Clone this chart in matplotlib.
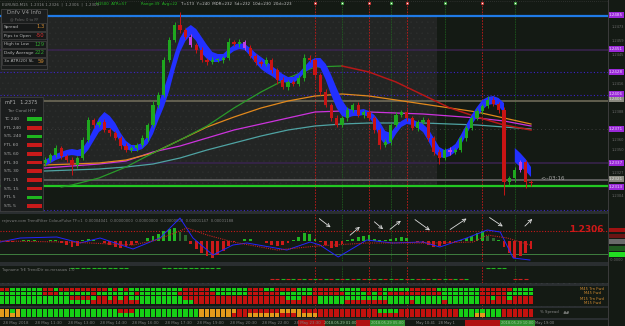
import numpy as np
import matplotlib
matplotlib.use("Agg")
import matplotlib.pyplot as plt
from matplotlib.patches import Rectangle

W, H = 625, 326
BG = "#141a14"
PIP = 0.0001

# ---------------- chart values ----------------
first_open = 1.2337
closes = [1.2340, 1.2345, 1.2352, 1.2344, 1.2340, 1.2335, 1.2342, 1.2360, 1.2380, 1.2375,
          1.2378, 1.2370, 1.2367, 1.2362, 1.2354, 1.2350, 1.2352, 1.2355, 1.2362, 1.2375,
          1.2395, 1.2405, 1.2440, 1.2460, 1.2475, 1.2470, 1.2463, 1.2455, 1.2450, 1.2440,
          1.2438, 1.2440, 1.2440, 1.2442, 1.2458, 1.2456, 1.2458, 1.2452, 1.2444, 1.2438,
          1.2436, 1.2440, 1.2430, 1.2420, 1.2413, 1.2418, 1.2416, 1.2422, 1.2442, 1.2440,
          1.2425, 1.2408, 1.2395, 1.2382, 1.2375, 1.2382, 1.2390, 1.2395, 1.2385, 1.2388,
          1.2382, 1.2370, 1.2355, 1.2358, 1.2375, 1.2385, 1.2388, 1.2382, 1.2372, 1.2378,
          1.2380, 1.2362, 1.2348, 1.2342, 1.2350, 1.2348, 1.2350, 1.2362, 1.2372, 1.2382,
          1.2389, 1.2394, 1.2400, 1.2396, 1.2390, 1.2318, 1.2322, 1.2330, 1.2338, 1.2318,
          1.2317]
wick_hi = [3, 2, 3, 2, 2, 3, 2, 3, 3, 2, 2, 3, 2, 2, 2, 3, 2, 2, 3, 2,
           4, 3, 3, 3, 3, 13, 2, 3, 2, 3, 2, 3, 2, 2, 4, 2, 3, 2, 3, 2,
           2, 3, 2, 2, 3, 2, 2, 3, 4, 3, 2, 2, 3, 2, 3, 2, 3, 2, 3, 2,
           3, 2, 2, 3, 2, 3, 2, 3, 2, 2, 3, 2, 2, 3, 2, 3, 2, 2, 3, 2,
           3, 2, 4, 3, 2, 3, 2, 3, 2, 2, 2]
wick_lo = [3, 2, 2, 3, 2, 10, 3, 2, 2, 3, 2, 2, 3, 2, 3, 2, 2, 3, 2, 3,
           2, 3, 2, 2, 2, 3, 2, 2, 3, 2, 3, 2, 2, 3, 2, 2, 3, 2, 2, 3,
           2, 2, 3, 4, 2, 3, 2, 2, 3, 2, 3, 3, 2, 3, 2, 2, 3, 2, 2, 3,
           2, 3, 4, 2, 3, 2, 2, 3, 2, 3, 2, 3, 3, 6, 2, 3, 2, 2, 3, 2,
           2, 3, 2, 2, 3, 13, 3, 4, 2, 6, 3]
magenta_bars = [27, 37, 75, 88]

band_mid = [1.2337, 1.2340, 1.2343, 1.2345, 1.2347, 1.2348, 1.2347, 1.2348, 1.2355, 1.2365,
            1.2375, 1.2380, 1.2378, 1.2372, 1.2362, 1.2355, 1.2352, 1.2352, 1.2354, 1.2360,
            1.2372, 1.2388, 1.2402, 1.2418, 1.2438, 1.2455, 1.2465, 1.2470, 1.2465, 1.2455,
            1.2448, 1.2443, 1.2442, 1.2443, 1.2448, 1.2452, 1.2454, 1.2453, 1.2448, 1.2442,
            1.2437, 1.2433, 1.2429, 1.2425, 1.2422, 1.2420, 1.2420, 1.2424, 1.2430, 1.2435,
            1.2438, 1.2437, 1.2428, 1.2415, 1.2402, 1.2392, 1.2387, 1.2387, 1.2387, 1.2388,
            1.2386, 1.2380, 1.2370, 1.2362, 1.2362, 1.2370, 1.2376, 1.2379, 1.2378, 1.2375,
            1.2372, 1.2365, 1.2355, 1.2348, 1.2346, 1.2348, 1.2352, 1.2360, 1.2370, 1.2380,
            1.2388, 1.2395, 1.2399, 1.2400, 1.2398, 1.2392, np.nan, 1.2345, 1.2340, 1.2335,
            1.2328]
band_half = [3, 3, 3, 3, 3, 3, 3, 4, 5, 6, 7, 8, 6, 5, 5, 4, 3, 3, 3, 4,
             6, 8, 9, 9, 8, 7, 6, 5, 6, 8, 7, 5, 4, 3, 3, 3, 3, 3, 4, 5,
             6, 6, 5, 5, 4, 3, 3, 3, 3, 4, 4, 5, 8, 10, 10, 8, 5, 3, 3, 3,
             3, 5, 8, 7, 5, 4, 3, 3, 3, 3, 4, 6, 7, 5, 4, 4, 4, 5, 5, 5,
             5, 5, 4, 4, 4, 5, np.nan, 7, 7, 6, 5]

ma_idx = [-8, 0, 5, 10, 15, 20, 25, 30, 35, 40, 45, 50, 55, 60, 65, 70, 75, 80, 85, 90]
ma_orange = [1.2335, 1.2335, 1.2336, 1.2337, 1.2340, 1.2347, 1.2360, 1.2373, 1.2383, 1.2392,
             1.2399, 1.2404, 1.2406, 1.2404, 1.2400, 1.2396, 1.2392, 1.2388, 1.2382, 1.2376]
ma_magenta = [1.2330, 1.2332, 1.2334, 1.2336, 1.2339, 1.2348, 1.2354, 1.2362, 1.2370, 1.2376,
              1.2382, 1.2388, 1.2389, 1.2388, 1.2387, 1.2386, 1.2384, 1.2382, 1.2379, 1.2374]
ma_teal = [1.2328, 1.2329, 1.2330, 1.2331, 1.2333, 1.2336, 1.2342, 1.2350, 1.2357, 1.2364,
           1.2370, 1.2374, 1.2376, 1.2377, 1.2377, 1.2377, 1.2376, 1.2375, 1.2373, 1.2371]
slow_idx = [3, 5, 10, 15, 20, 25, 30, 35, 40, 45, 50, 55, 60, 65, 70, 75, 80, 85, 90]
ma_slow = [1.2313, 1.2315, 1.2322, 1.2333, 1.2347, 1.2360, 1.2374, 1.2392, 1.2408, 1.2422,
           1.2433, 1.2434, 1.2428, 1.2418, 1.2405, 1.2392, 1.2383, 1.2375, 1.2370]
slow_turn = 55

level_top = 1.2484
level_mf1 = 1.2399
level_gray = 1.2320
level_bid = 1.2314
levels_dotted = [1.2428, 1.2405]
levels_purple = [1.2450, 1.2337]
level_grid = 1.2371
session_end = 72.6

red_vlines = [50, 60, 67, 81]
green_vlines = [55, 64, 74, 87]

axis_boxes = [1.2485, 1.2451, 1.2428, 1.2406, 1.2371, 1.2337, 1.2313]
axis_gray_boxes = [1.2401, 1.2321]
axis_ticks = [1.2473, 1.2459, 1.2445, 1.2416, 1.2388, 1.2360, 1.2350, 1.2327, 1.2304]

# trend filter histogram, bars -8 .. 90
hist = [0, -1, -1, 0, 1, 1, 1, 0,
        0, 1, 1, -2, -4, -6, -5, 1, 2, 1, 0, -2, -4, -6, -7, -6, -4, -2, 0, 3,
        5, 7, 10, 12, 13, 9, 6, -3, -8, -12, -15, -17, -14, -10, -5, -1, 0, 2, 2, 0,
        0, -2, -4, -5, -4, -2, 1, 4, 8, 7, 2, -1, -4, -7, -6, -3, 1, 2, 4, 5,
        6, 2, 1, 1, 2, 3, 4, 3, 0, -1, -2, -4, -6, -5, -3, -2, -1, 1, 3, 5,
        8, 10, 5, 3, 1, -6, -12, -17, -15, -12, -8]
hist_faded = [25, 26, 82, 83]
fast_idx = [-8.3, -4.6, 2.2, 6.5, 10.2, 16.3, 21.3, 25.0, 27.4, 31.1, 34.8, 37.4, 44.8,
            49.1, 50.9, 54.3, 59.6, 64.4, 70.0, 73.1, 78.1, 81.9, 84.3, 86.7, 89.8]
fast_val = [-1, 3, 4, -2, 3, -8, 3, 23, 3, -14, -4, -2, -9,
            -1, -4, -16, 1, -2, -1, -6, 3, 11, 9, -17, -19]
sig_idx = [-8.3, 4.1, 16.3, 20.7, 26.3, 30.0, 34.8, 43.0, 50.4, 59.6, 71.9, 79.3, 81.9, 85.6, 89.8]
sig_val = [0, -1, -4, 1, 13, 6, -1, -9, -5, -2, -2, -1, 6, 3, -4]
arrow_x0 = [50.4, 56.1, 60.6, 63.5, 68.1, 74.6, 81.9, 88.5]
arrow_y0 = [24, 4, 21, 10, 23, 10, 25, 13]
arrow_x1 = [53.3, 58.7, 63.0, 66.3, 71.7, 78.5, 85.2, 90.6]
arrow_y1 = [12, 16, 10, 22, 9, 24, 13, 24]

# second sub-window markers (run lengths, bars -8 .. 90)
marks_top = "-13 g11 -6 g11 -49 g4 -5"
marks_low = ("-50 r2 g1 r1 g1 r1 g1 r1 g1 r1 g1 r1 g1 r1 g1 r1 g1 r1 g1 r1 g1 r1 "
             "g1 r1 g1 r1 g1 r1 g1 r1 g1 r1 g1 r1 g1 r1 g1 -8 r3 -1")

# trend grid (run lengths, bars -8 .. 90)
grid_rows = [
    "r2 g6 r2 g1 r9 g1 r1 g1 r1 g10 r5 g7 r3 g2 r4 g3 r5 g4 r4 g5 r5 g8 r6 g4",
    "g8 r3 g6 r1 g7 r1 g7 r7 g6 r6 g6 r6 g4 r1 g1 r1 g1 r10 g7 r5 g5",
    "g13 r4 g1 r2 g1 r1 g1 r1 g10 r19 g3 r3 g30 r2 g1 r2 g1 r4",
    "g17 r9 g10 r23 g5 r8 g4 r1 g5 r1 g6 r10",
    "o2 g1 o1 g18 r3 g12 o7 r8 o4 r14 g4 r11 g8 r6",
    "o4 g33 o6 r3 o6 r3 o4 r26 g3 o2 g3 r6",
]

info_labels = ["Spread", "Pips to Open", "High to Low", "Daily Average", "3x ATR(20) SL"]
info_values = ["1.3", "-50", "129", "222", "59"]
htf_labels = ["TC 240", "FTL 240", "STL 240", "FTL 60", "STL 60", "FTL 30",
              "STL 30", "FTL 15", "STL 15", "FTL 5", "STL 5"]
htf_state = "grgrrrrrrgr"

date_ticks = [-8, -2, 4, 10, 16, 22, 28, 34, 40, 46]
date_labels = ["28 May 2018", "28 May 11:30", "28 May 13:00", "28 May 14:30", "28 May 16:00",
               "28 May 17:30", "28 May 19:00", "28 May 20:30", "28 May 22:00", "28 May 23:30"]


def expand(runs):
    s = "".join(tok[0] * int(tok[1:]) for tok in runs.split())
    return s.ljust(99, "-")[:99]


# ---------------- figure ----------------
plt.rcParams["font.family"] = ["DejaVu Sans"]
plt.rcParams["hatch.linewidth"] = 0.4
fig = plt.figure(figsize=(W / 100, H / 100), dpi=100, facecolor=BG)

X0, X1 = -45 / 5.4, (608 - 45) / 5.4
GREEN, RED, MAG = "#1fa81f", "#c81414", "#c040e0"
CELL = {"g": "#16d016", "r": "#c3120e", "o": "#e39a1c"}


def fig_axes(x0, y0, x1, y1, z=1):
    a = fig.add_axes([x0 / W, 1 - y1 / H, (x1 - x0) / W, (y1 - y0) / H], zorder=z)
    a.axis("off")
    return a


def vlines_on(a, with_marks=False, ytop=None):
    for v in red_vlines:
        a.axvline(v, color="#c41a1a", lw=0.6, ls=(0, (2, 1.5)), zorder=1)
    for v in green_vlines:
        a.axvline(v, color="#1f6a1f", lw=0.6, ls=(0, (1, 1)), zorder=1)
    if with_marks:
        for v in red_vlines:
            a.plot(v, ytop, "s", ms=1.8, mfc="white", mec="#e02020", mew=0.5, clip_on=False, zorder=9)
        for v in green_vlines:
            a.plot(v, ytop, "s", ms=1.8, mfc="white", mec="#30b030", mew=0.5, clip_on=False, zorder=9)


# ---- main price window ----
ax = fig_axes(0, 0, 608, 211)
ax.set_xlim(X0, X1)
ax.set_ylim(1.2289, 1.2500)
ax.add_patch(Rectangle((X0, level_bid), session_end - X0, level_top - level_bid,
                       facecolor="#232524", edgecolor="#2c2e2d", hatch="...", lw=0, zorder=0))
vlines_on(ax, True, 1.2497)
ax.axhline(level_top, color="#1f7ae6", lw=1.6, zorder=2)
for p in levels_purple:
    ax.axhline(p, color="#3a2450", lw=1.1, zorder=1)
for p in levels_dotted:
    ax.axhline(p, color="#3a22c8", lw=0.8, ls=(0, (1, 2)), zorder=1)
ax.axhline(level_grid, color="#3d3d3d", lw=0.7, ls=(0, (1, 3)), zorder=1)
ax.axhline(level_mf1, color="#6e6a58", lw=1.2, zorder=1)
ax.axhline(level_gray, color="#5c5c5c", lw=1.4, zorder=1)
ax.axhline(level_bid, color="#22c822", lw=1.6, zorder=2)
ax.axhline(1.2290, color="#3a22c8", lw=0.8, ls=(0, (1, 2)), zorder=1)

ax.plot(ma_idx, ma_teal, color="#4fa3a3", lw=0.9, zorder=2)
ax.plot(ma_idx, ma_magenta, color="#cc33dd", lw=0.9, zorder=2)
ax.plot(ma_idx, ma_orange, color="#e2891c", lw=0.9, zorder=2)
k = slow_idx.index(slow_turn)
ax.plot(slow_idx[:k + 1], ma_slow[:k + 1], color="#2a9a2a", lw=0.9, zorder=2)
ax.plot(slow_idx[k:], ma_slow[k:], color="#b51818", lw=1.1, zorder=2)

idx = np.arange(len(closes))
c = np.array(closes)
o = np.array([first_open] + closes[:-1])
mid = np.array(band_mid)
half = np.array(band_half) * PIP
ok = ~np.isnan(mid)
ax.fill_between(idx, mid - half, mid + half, where=ok, color="#2230ff", lw=0, zorder=3)

cols = [GREEN if cc >= oo else RED for cc, oo in zip(c, o)]
for m in magenta_bars:
    cols[m] = MAG
hi = np.maximum(o, c) + np.array(wick_hi) * PIP
lo = np.minimum(o, c) - np.array(wick_lo) * PIP
ax.vlines(idx, lo, hi, colors=cols, lw=0.7, zorder=4)
ax.bar(idx, np.maximum(np.abs(c - o), 0.8 * PIP), bottom=np.minimum(o, c), width=0.58,
       color=cols, zorder=5)
ax.text(91.8, 1.2322, "<--03:16", color="#a8a8a8", fontsize=4, va="center", zorder=6)

# ---- main price axis ----
axr = fig_axes(608, 0, 625, 211)
axr.set_ylim(1.2289, 1.2500)
axr.set_xlim(0, 1)
for p in axis_ticks:
    axr.text(0.2, p, "1.%04d" % round((p - 1) * 10000), color="#6a6a6a", fontsize=2.6, va="center")
for p in axis_gray_boxes:
    axr.text(0.06, p, "1.%04d" % round((p - 1) * 10000), color="#dddddd", fontsize=3, va="center",
             bbox=dict(boxstyle="square,pad=0.15", fc="#8a8a80", ec="none"))
for p in axis_boxes:
    axr.text(0.06, p, "1.%04d" % round((p - 1) * 10000), color="#f0d8ff", fontsize=3, va="center",
             bbox=dict(boxstyle="square,pad=0.15", fc="#9a28d8", ec="none"))

# ---- trend filter window ----
ai = fig_axes(0, 214, 608, 262)
ai.set_xlim(X0, X1)
ai.set_ylim(-21, 27)
vlines_on(ai)
hidx = np.arange(-8, 91)
hv = np.array(hist)
hcols = []
for i, v in zip(hidx, hv):
    if i in hist_faded:
        hcols.append("#2d6a2d" if v >= 0 else "#6a1c1c")
    else:
        hcols.append("#22b422" if v >= 0 else "#cc1a1a")
ai.bar(hidx, hv, width=0.55, color=hcols, zorder=3)
ai.axhline(10, color="#c81818", lw=0.8, ls=(0, (1, 1.5)), zorder=2)
ai.axhline(-13, color="#3f7f3f", lw=0.7, zorder=2)
ai.plot(fast_idx, fast_val, color="#2424ff", lw=0.7, zorder=4)
ai.plot(sig_idx, sig_val, color="#c42020", lw=0.8, ls=(0, (1, 1)), zorder=4)
for xa, ya, xb, yb in zip(arrow_x0, arrow_y0, arrow_x1, arrow_y1):
    ai.annotate("", xy=(xb, yb), xytext=(xa, ya),
                arrowprops=dict(arrowstyle="->", color="#dcdcdc", lw=0.6, mutation_scale=6),
                zorder=6)
ai.text(0.004, 0.83, "rejnvwe.com TrendFilter ColourPulse TF=1  0.00004041  0.00000000  "
        "0.00000000  0.00000000  0.00001147  0.00001188",
        transform=ai.transAxes, color="#7c7c7c", fontsize=2.7)

# ---- second sub-window ----
a2 = fig_axes(0, 266, 608, 283)
a2.set_xlim(X0, X1)
a2.set_ylim(0, 17)
vlines_on(a2)
for i, ch in zip(hidx, expand(marks_top)):
    if ch == "g":
        a2.plot(i, 15.5, marker="_", ms=2.5, mew=0.8, color="#22b422")
for i, ch in zip(hidx, expand(marks_low)):
    if ch in "rg":
        a2.plot(i, 4, marker="_", ms=2.5, mew=0.8, color="#22b422" if ch == "g" else "#cc2020")
a2.text(0.004, 0.72, "Tapname TrE TrendDir oc.mrsasaw 1.0", transform=a2.transAxes,
        color="#7c7c7c", fontsize=2.7)

# ---- trend grid ----
ag = fig_axes(0, 286, 608, 318)
ag.set_xlim(X0, X1)
ag.set_ylim(318, 286)
vlines_on(ag)
row_y = [289.5, 293.5, 298, 302, 311, 315]
for yc, runs in zip(row_y, grid_rows):
    colors = [CELL.get(ch, BG) for ch in expand(runs)]
    ag.bar(hidx, 3.3, bottom=yc - 1.65, width=0.82, color=colors, zorder=3)

# ---- time axis ----
at = fig_axes(0, 319, 608, 326)
at.set_xlim(X0, X1)
at.set_ylim(0, 1)
for i, lab in zip(date_ticks, date_labels):
    at.text(i + 0.2, 0.45, lab, color="#7d7d7d", fontsize=2.8, va="center")
footer = [(46.9, 51.9, "#b01010", ""), (51.9, 57.5, "#1b3a1b", "2018.05.29 01:00"),
          (57.5, 60.2, "#b01010", ""), (60.2, 66.7, "#2f8f2f", "2018.05.29 05:00"),
          (66.7, 77.8, BG, "May 10:41   28 May 1"), (77.8, 84.3, "#b01010", ""),
          (84.3, 90.7, "#2f8f2f", "2018.05.29 10:00"), (90.7, 94.5, BG, "May 19:00")]
for a, b, fc, lab in footer:
    at.axvspan(a, b, color=fc, lw=0)
    if lab:
        at.text((a + b) / 2, 0.45, lab, color="#9fc89f" if fc != BG else "#8a8a8a",
                fontsize=2.6, ha="center", va="center")

# ---- overlay: panels, separators, labels ----
ov = fig.add_axes([0, 0, 1, 1], zorder=10)
ov.axis("off")
ov.set_xlim(0, W)
ov.set_ylim(H, 0)

for y0, y1 in [(211, 214), (262, 266), (283, 286), (306, 308), (318, 320)]:
    ov.add_patch(Rectangle((0, y0), 608, y1 - y0, fc="#2a2e30", ec="#363a3c",
                           hatch="...", lw=0))
ov.plot([608, 608], [0, 326], color="#3c3c3c", lw=0.7)
ov.plot([0, 608], [1, 1], color="#444444", lw=0.5, ls=(0, (1, 2)))

# top status line
ov.text(2, 4.2, "EURUSD,M15  1.2316 1.2326  |  1.2306  |  1.2309", color="#8e8e8e",
        fontsize=2.8, va="center")
ov.text(96, 4.2, "H1500  ATR=57", color="#24b824", fontsize=2.8, va="center")
ov.text(141, 4.2, "Range:39  Avg=22", color="#24b824", fontsize=2.8, va="center")
ov.text(181, 4.2, "T=173  Y=240  MDR=232  5d=232  10d=230  20d=223", color="#c8c8c8",
        fontsize=2.8, va="center")

# info panel
ov.add_patch(Rectangle((1, 9), 46, 60, fc="#1b1d1d", ec="#4a4a4a", lw=0.5))
ov.text(24, 13, "Dnfv V4 Info", color="#9a9a9a", fontsize=4, ha="center", va="center")
ov.text(24, 19, "@ Poles: 0 to FF", color="#6e6e6e", fontsize=2.5, ha="center", va="center")
val_cols = ["#d08a30", "#e03030", "#2f9f2f", "#2f9f2f", "#d08a30"]
for j, (lab, val) in enumerate(zip(info_labels, info_values)):
    yc = 27 + 8.6 * j
    ov.add_patch(Rectangle((2, yc - 3.7), 44, 7.4, fc="#161818", ec="#454545", lw=0.5))
    ov.text(4, yc, lab, color="#b4b4b4", fontsize=3.1, va="center")
    ov.text(44.5, yc, val, color=val_cols[j], fontsize=3.8, ha="right", va="center")

# higher timeframe panel
ov.add_patch(Rectangle((0, 97), 43, 114, fc="#1b1d1d", ec="#444444", lw=0.5))
ov.text(21.5, 102, "mF1   1.2375", color="#b0b0b0", fontsize=3.5, ha="center", va="center")
ov.text(21.5, 110.5, "Tnr Cond HTF", color="#8a8a8a", fontsize=3.2, ha="center", va="center")
for j, (lab, st) in enumerate(zip(htf_labels, htf_state)):
    yc = 119 + 8.7 * j
    ov.text(4, yc, lab, color="#a8a8a8", fontsize=3.2, va="center")
    ov.add_patch(Rectangle((27, yc - 1.8), 15, 3.6, fc="#1fb51f" if st == "g" else "#c81a1a",
                           ec="none"))

# trend filter right side
ov.text(604, 230, "1.2306", color="#d01818", fontsize=6.5, fontweight="bold",
        ha="right", va="center")
for yc, fc in [(230, "#a01212"), (236, "#6a1414"), (241.5, "#6a6a6a"), (248.5, "#1f5a1f"),
               (254.5, "#22dd22")]:
    ov.add_patch(Rectangle((609, yc - 2.3), 16, 4.6, fc=fc, ec="none"))
ov.text(610, 260, "-0.0000", color="#6a6a6a", fontsize=2.5, va="center")

# grid panel right side
ov.text(592, 291, "M45 Trn Fwd\nM45 Fwd", color="#d08a30", fontsize=2.7, ha="center",
        va="center", linespacing=1.1)
ov.text(592, 301, "M15 Trn Fwd\nM15 Fwd", color="#d08a30", fontsize=2.7, ha="center",
        va="center", linespacing=1.1)
ov.text(540, 312.5, "% Spread", color="#8a8a8a", fontsize=2.8, va="center")
ov.text(563, 312.5, "##", color="#c8c8c8", fontsize=3.2, va="center")

fig.savefig("out.png", dpi=100, facecolor=BG)
